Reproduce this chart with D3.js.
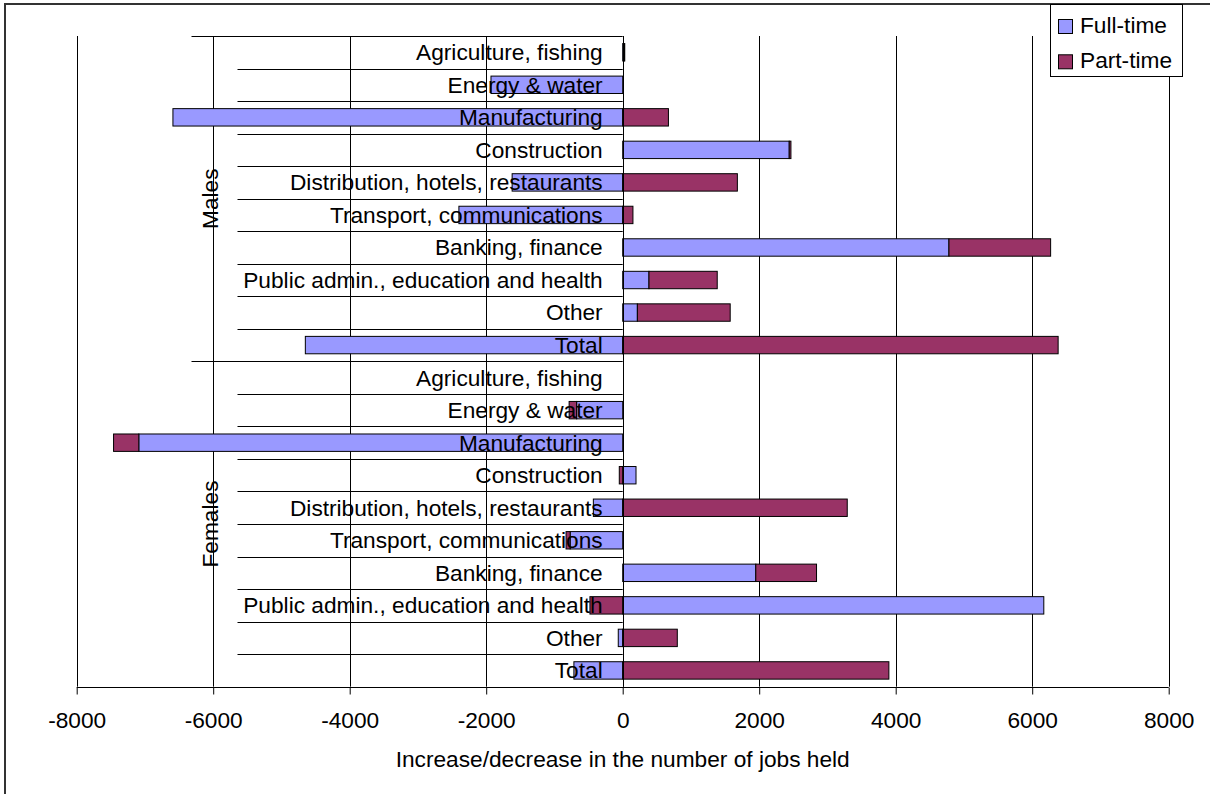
<!DOCTYPE html>
<html>
<head>
<meta charset="utf-8">
<script src="https://cdn.jsdelivr.net/npm/d3@7/dist/d3.min.js"></script>
<style>
  html, body { margin: 0; padding: 0; background: #fff; }
  svg { display: block; font-family: "Liberation Sans", Arial, sans-serif; }
</style>
</head>
<body>
<svg id="chart" width="1210" height="794"></svg>
<script>
// ---- data ----
const sectors = ["Agriculture, fishing", "Energy & water", "Manufacturing", "Construction",
  "Distribution, hotels, restaurants", "Transport, communications", "Banking, finance",
  "Public admin., education and health", "Other", "Total"];
const groups = ["Males", "Females"];
const seriesNames = ["Full-time", "Part-time"];
const maleFull   = [20, -1930, -6590, 2440, -1620, -2400, 4780, 385, 215, -4650];
const malePart   = [10, 0, 670, 25, 1680, 150, 1490, 1000, 1360, 6380];
const femaleFull = [0, -675, -7090, 195, -430, -770, 1950, 6170, -65, -715];
const femalePart = [0, -110, -370, -50, 3290, -60, 890, -480, 800, 3900];
const xTicks = [-8000, -6000, -4000, -2000, 0, 2000, 4000, 6000, 8000];
const xTitle = "Increase/decrease in the number of jobs held";

const colors = { "Full-time": "#9999FF", "Part-time": "#993366" };

(function () {
// ---- build table ----
const rows = [];
groups.forEach((g, gi) => {
  const full = gi === 0 ? maleFull : femaleFull;
  const part = gi === 0 ? malePart : femalePart;
  sectors.forEach((s, si) => {
    rows.push({ key: g + "|" + s, group: g, sector: s, "Full-time": full[si], "Part-time": part[si] });
  });
});

const svg = d3.select("#chart");
const FONT = 22.7;

const pLeft = 76.7, pRight = 1168.7, pTop = 36, pBottom = 686.7;
const x = d3.scaleLinear().domain([-8000, 8000]).range([pLeft, pRight]);
const y = d3.scaleBand().domain(rows.map(d => d.key)).range([pTop, pBottom])
  .paddingInner(0.465).paddingOuter(0.2325);
const step = y.step();

// outer border
svg.append("rect").attr("x", 5).attr("y", 4).attr("width", 1240).attr("height", 830)
  .attr("fill", "none").attr("stroke", "#333").attr("stroke-width", 2);

// gridlines
svg.append("g").selectAll("line").data(xTicks).join("line")
  .attr("x1", d => Math.round(x(d)) + 0.5).attr("x2", d => Math.round(x(d)) + 0.5)
  .attr("y1", pTop).attr("y2", pBottom)
  .attr("stroke", "#000").attr("stroke-width", 1);

// stacked bars
const stack = d3.stack().keys(seriesNames).offset(d3.stackOffsetDiverging);
const stacked = stack(rows);
svg.append("g").selectAll("g").data(stacked).join("g")
  .attr("fill", d => colors[d.key])
  .selectAll("rect").data(d => d).join("rect")
  .attr("x", d => x(Math.min(d[0], d[1])))
  .attr("width", d => Math.abs(x(d[1]) - x(d[0])))
  .attr("y", d => y(d.data.key))
  .attr("height", y.bandwidth())
  .attr("stroke", "#000").attr("stroke-width", 1)
  .attr("display", d => (d[1] - d[0]) === 0 ? "none" : null);

// category axis ticks (row boundaries)
const zeroX = x(0);
const boundaries = d3.range(rows.length + 1);
svg.append("g").selectAll("line").data(boundaries).join("line")
  .attr("x1", i => (i % sectors.length === 0) ? 191.5 : 237.5)
  .attr("x2", zeroX)
  .attr("y1", i => Math.round(pTop + i * step) + 0.5)
  .attr("y2", i => Math.round(pTop + i * step) + 0.5)
  .attr("stroke", "#000").attr("stroke-width", 1);

// vertical category axis line at 0
svg.append("line").attr("x1", Math.round(zeroX) + 0.5).attr("x2", Math.round(zeroX) + 0.5)
  .attr("y1", pTop).attr("y2", pBottom).attr("stroke", "#000");

// x axis
const xAxis = d3.axisBottom(x).tickValues(xTicks).tickSize(7).tickPadding(0).tickFormat(d => String(d));
const gx = svg.append("g").attr("transform", `translate(0,${Math.round(pBottom) + 0.5})`).call(xAxis);
gx.select(".domain").attr("stroke", "#000").attr("d", `M${pLeft},0H${pRight}`);
gx.selectAll(".tick line").attr("stroke", "#000");
gx.selectAll(".tick text").attr("font-size", FONT).attr("fill", "#000")
  .attr("font-family", "Liberation Sans, Arial, sans-serif")
  .attr("dy", null).attr("y", 728 - Math.round(pBottom) - 0.5);

// category labels
svg.append("g").selectAll("text").data(rows).join("text")
  .attr("x", zeroX - 20)
  .attr("y", d => y(d.key) + y.bandwidth() / 2)
  .attr("dy", "0.35em")
  .attr("text-anchor", "end")
  .attr("font-size", FONT)
  .text(d => d.sector);

// group labels
groups.forEach((g, gi) => {
  const y0 = pTop + gi * sectors.length * step;
  const yc = y0 + sectors.length * step / 2;
  svg.append("text")
    .attr("transform", `translate(218,${yc}) rotate(-90)`)
    .attr("text-anchor", "middle")
    .attr("font-size", FONT)
    .text(g);
});

// x title
svg.append("text").attr("x", (pLeft + pRight) / 2).attr("y", 767)
  .attr("text-anchor", "middle").attr("font-size", FONT).text(xTitle);

// legend
const lg = svg.append("g");
lg.append("rect").attr("x", 1050.5).attr("y", 4.5).attr("width", 132).attr("height", 72)
  .attr("fill", "#fff").attr("stroke", "#000");
seriesNames.forEach((s, i) => {
  const yy = 19 + i * 35.3;
  lg.append("rect").attr("x", 1058.5).attr("y", yy + 0.5).attr("width", 14).attr("height", 14)
    .attr("fill", colors[s]).attr("stroke", "#000");
  lg.append("text").attr("x", 1080).attr("y", yy + 13.5).attr("font-size", FONT).text(s);
});
})();
</script>
</body>
</html>
